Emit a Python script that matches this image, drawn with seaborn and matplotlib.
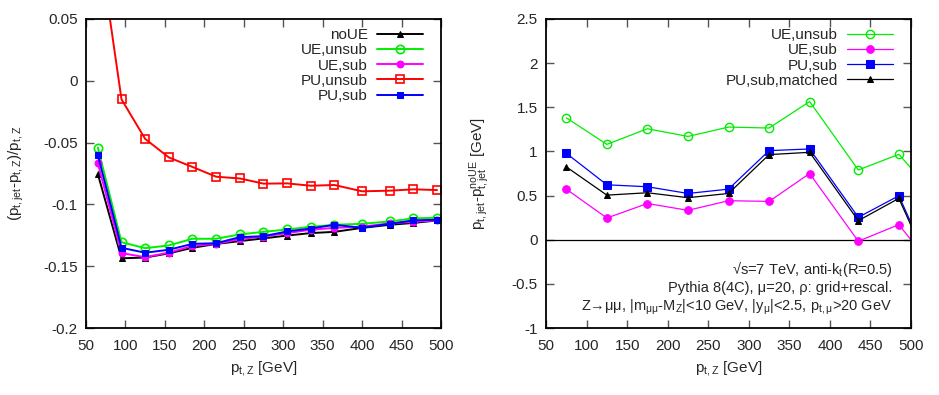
import numpy as np
import pandas as pd
import matplotlib
matplotlib.use('Agg')
import matplotlib.pyplot as plt
import seaborn as sns

# left panel: (pt_jet - pt_Z)/pt_Z vs pt_Z
pt_left = [65, 95, 125, 155, 185, 215, 245, 275, 305, 335, 365, 400, 435, 465, 495]
noUE = [-0.0754, -0.1436, -0.1430, -0.1396, -0.1351, -0.1320, -0.1297, -0.1275, -0.1252, -0.1232,
        -0.1222, -0.1190, -0.1165, -0.1150, -0.1130]
UE_unsub = [-0.054, -0.1306, -0.1354, -0.1332, -0.1278, -0.1278, -0.1243, -0.1222, -0.1203, -0.1181,
            -0.1165, -0.1157, -0.1138, -0.1113, -0.1108]
UE_sub = [-0.0668, -0.1394, -0.1427, -0.1390, -0.1336, -0.1320, -0.1280, -0.1260, -0.1232, -0.1205,
          -0.1190, -0.1180, -0.1154, -0.1140, -0.1130]
PU_unsub = [0.118, -0.015, -0.047, -0.062, -0.0697, -0.0776, -0.079, -0.0832, -0.083, -0.0849,
            -0.0843, -0.0894, -0.0889, -0.0878, -0.0884]
PU_sub = [-0.060, -0.1351, -0.1391, -0.1367, -0.1319, -0.1314, -0.1265, -0.1257, -0.1219, -0.1195,
          -0.1165, -0.1189, -0.1157, -0.1129, -0.1124]

# right panel: pt_jet - pt_jet^noUE [GeV]
pt_right = [75, 125, 175, 225, 275, 325, 375, 435, 485, 525]
r_UE_unsub = [1.381, 1.08, 1.257, 1.17, 1.276, 1.265, 1.565, 0.79, 0.967, 0.55]
r_UE_sub = [0.573, 0.246, 0.41, 0.333, 0.442, 0.434, 0.75, -0.017, 0.171, -0.29]
r_PU_sub = [0.979, 0.622, 0.60, 0.524, 0.573, 1.009, 1.028, 0.254, 0.498, -0.32]
r_PU_matched = [0.825, 0.505, 0.532, 0.476, 0.524, 0.964, 0.99, 0.216, 0.468, -0.35]

sns.set_style('ticks')
plt.rcParams['font.family'] = ['Liberation Sans', 'DejaVu Sans']
plt.rcParams['mathtext.fontset'] = 'custom'
plt.rcParams['mathtext.rm'] = 'Liberation Sans'
plt.rcParams['mathtext.it'] = 'Liberation Sans'
plt.rcParams['mathtext.default'] = 'rm'
plt.rcParams['font.size'] = 11

fig = plt.figure(figsize=(9.39, 3.95), dpi=100)
ax1 = fig.add_axes([0.0916, 0.1696, 0.378, 0.7823])
ax2 = fig.add_axes([0.5815, 0.1696, 0.3887, 0.7823])


def style_axis(ax):
    ax.set_xlim(50, 500)
    ax.set_xticks(range(50, 501, 50))
    ax.tick_params(direction='in', length=6, width=1, top=True, right=True,
                   color='#555555', labelsize=11)
    ax.tick_params(axis='x', pad=8)
    ax.tick_params(axis='y', pad=6)
    for s in ax.spines.values():
        s.set_linewidth(1.3)
        s.set_color('black')
    ax.set_xlabel('p$_{t,Z}$ [GeV]', fontsize=11, labelpad=4)


lw1 = 1.4
sns.lineplot(x=pt_left, y=noUE, ax=ax1, color='black', marker='^', markersize=5, lw=lw1,
             mec='black', label='noUE', sort=False)
sns.lineplot(x=pt_left, y=UE_unsub, ax=ax1, color='#00ee00', marker='o', markersize=6, lw=lw1,
             mfc='none', mec='#00ee00', mew=1.2, label='UE,unsub', sort=False)
sns.lineplot(x=pt_left, y=UE_sub, ax=ax1, color='#ff00ff', marker='o', markersize=5, lw=lw1,
             mec='#ff00ff', label='UE,sub', sort=False)
sns.lineplot(x=pt_left, y=PU_unsub, ax=ax1, color='#ff0000', marker='s', markersize=6, lw=lw1,
             mfc='none', mec='#ff0000', mew=1.2, label='PU,unsub', sort=False)
sns.lineplot(x=pt_left, y=PU_sub, ax=ax1, color='#0000ff', marker='s', markersize=5, lw=lw1,
             mec='#0000ff', label='PU,sub', sort=False)
style_axis(ax1)
ax1.set_ylim(-0.2, 0.05)
ax1.set_yticks([-0.2, -0.15, -0.1, -0.05, 0, 0.05])
ax1.set_yticklabels(['-0.2', '-0.15', '-0.1', '-0.05', '0', '0.05'])
ax1.set_ylabel('(p$_{t,jet}$-p$_{t,Z}$)/p$_{t,Z}$', fontsize=11, labelpad=12)
ax1.legend(loc='upper right', bbox_to_anchor=(0.975, 1.0), frameon=False, markerfirst=False,
           handlelength=3.0, handletextpad=0.6, labelspacing=0.08, fontsize=11, borderaxespad=0.2)

lw2 = 0.9
ax2.axhline(0, color='black', lw=0.9, zorder=1)
sns.lineplot(x=pt_right, y=r_UE_unsub, ax=ax2, color='#00ee00', marker='o', markersize=6, lw=lw2,
             mfc='none', mec='#00ee00', mew=1.0, label='UE,unsub', sort=False)
sns.lineplot(x=pt_right, y=r_UE_sub, ax=ax2, color='#ff00ff', marker='o', markersize=5.5, lw=lw2,
             mec='#ff00ff', label='UE,sub', sort=False)
sns.lineplot(x=pt_right, y=r_PU_sub, ax=ax2, color='#0000ff', marker='s', markersize=5.5, lw=lw2,
             mec='#0000ff', label='PU,sub', sort=False)
sns.lineplot(x=pt_right, y=r_PU_matched, ax=ax2, color='black', marker='^', markersize=5, lw=lw2,
             mec='black', label='PU,sub,matched', sort=False)
style_axis(ax2)
ax2.set_ylim(-1, 2.5)
ax2.set_yticks([-1, -0.5, 0, 0.5, 1, 1.5, 2, 2.5])
ax2.set_yticklabels(['-1', '-0.5', '0', '0.5', '1', '1.5', '2', '2.5'])
ax2.set_ylabel('p$_{t,jet}$-p$_{t,jet}^{noUE}$ [GeV]', fontsize=11, labelpad=14)
ax2.legend(loc='upper right', bbox_to_anchor=(0.975, 1.0), frameon=False, markerfirst=False,
           handlelength=3.0, handletextpad=0.6, labelspacing=0.08, fontsize=11, borderaxespad=0.2)

notes = ['√s=7 TeV, anti-k$_t$(R=0.5)',
         'Pythia 8(4C), μ=20, ρ: grid+rescal.',
         'Z→μμ, |m$_{μμ}$-M$_Z$|<10 GeV, |y$_μ$|<2.5, p$_{t,μ}$>20 GeV']
for i, t in enumerate(notes):
    ax2.text(0.948, 0.19 - i * 0.061, t, transform=ax2.transAxes, ha='right', va='center',
             fontsize=10.5)

plt.savefig('out.png', dpi=100)
